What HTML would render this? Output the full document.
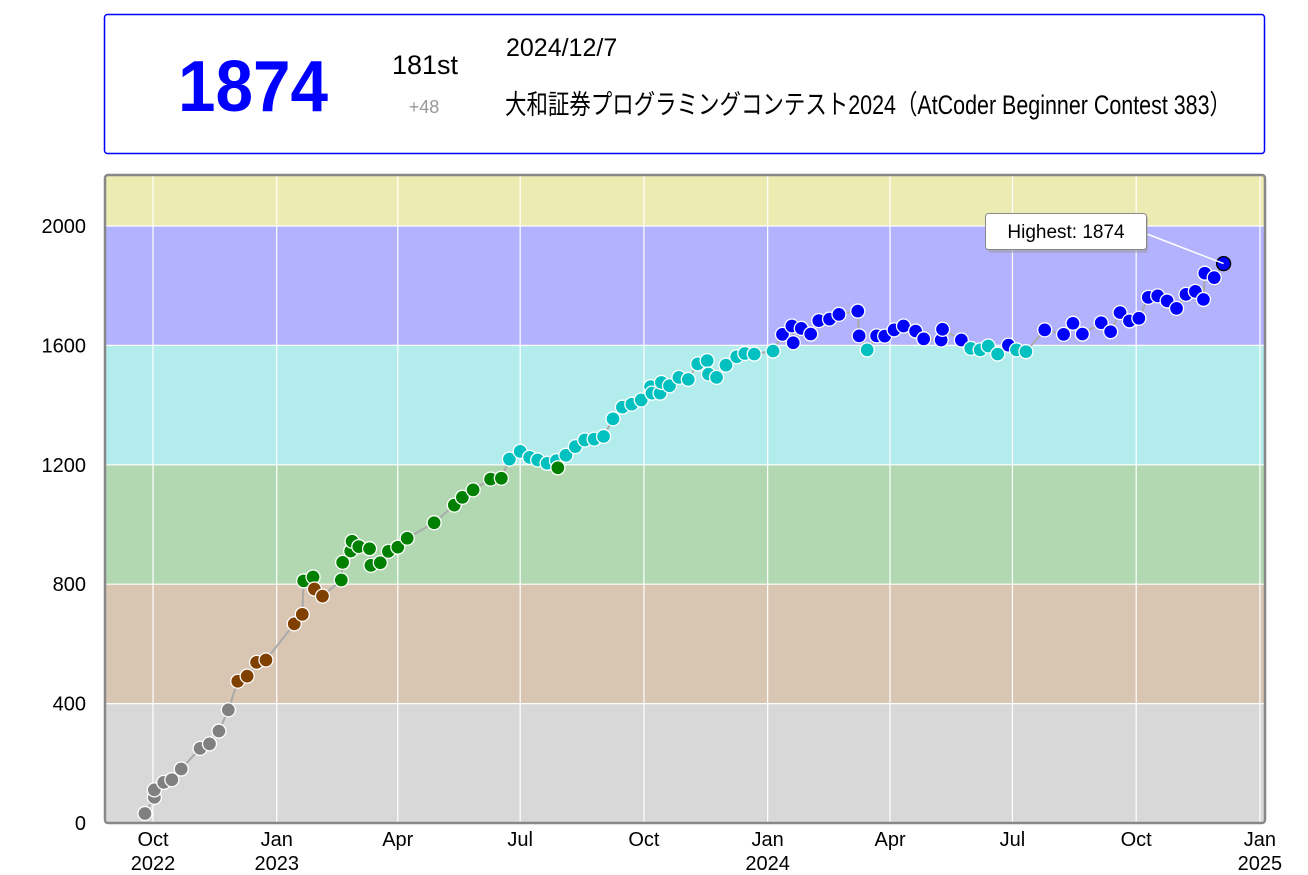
<!DOCTYPE html>
<html><head><meta charset="utf-8"><style>
body{margin:0;background:#fff;width:1308px;height:875px;overflow:hidden}
svg{display:block;font-family:"Liberation Sans","Noto Sans CJK JP",sans-serif}
</style></head><body>
<svg id="svg" width="1308" height="875">
<g>
<rect x="104.5" y="14.5" width="1160" height="139" rx="3" fill="#fff" stroke="#0000ff" stroke-width="1.5"/>
<text x="253" y="111" font-size="72" font-weight="bold" fill="#0000ff" text-anchor="middle" textLength="150" lengthAdjust="spacingAndGlyphs">1874</text>
<text x="425" y="74" font-size="27" text-anchor="middle" fill="#000">181st</text>
<text x="424" y="113" font-size="18" text-anchor="middle" fill="#999">+48</text>
<text x="506" y="56" font-size="25" fill="#000">2024/12/7</text>
<text x="505" y="114" font-size="27" fill="#000" textLength="726" lengthAdjust="spacingAndGlyphs">大和証券プログラミングコンテスト2024（AtCoder Beginner Contest 383）</text>
</g>
<g id="plot"></g>
</svg>
<script>
const dayOffsets=[-6,1,1,8,14,21,35,42,49,56,63,70,77,84,105,111,112,119,120,126,140,141,147,148,153,161,162,169,175,182,189,209,224,230,238,251,259,265,273,280,286,293,300,301,307,314,321,328,335,342,349,356,363,370,371,377,378,384,391,398,405,412,413,419,426,434,440,447,461,468,475,476,482,489,495,503,510,524,525,531,538,544,551,558,567,573,586,587,601,608,615,621,628,636,642,649,663,677,684,691,705,712,719,726,733,740,747,754,761,768,775,781,782,789,796];
const ratings=[32,86,111,136,145,181,250,265,308,379,475,492,538,546,667,699,811,824,784,760,814,873,911,944,926,919,863,872,910,924,954,1006,1065,1091,1116,1152,1155,1219,1245,1225,1216,1205,1214,1190,1232,1261,1283,1286,1295,1354,1393,1403,1417,1462,1440,1440,1476,1465,1493,1486,1538,1549,1504,1493,1534,1562,1573,1571,1581,1637,1665,1609,1657,1638,1683,1688,1704,1715,1632,1585,1632,1631,1652,1665,1648,1622,1618,1654,1618,1590,1585,1598,1571,1601,1585,1579,1652,1637,1674,1638,1676,1646,1710,1682,1691,1761,1766,1749,1724,1771,1781,1754,1842,1827,1874];
const yTicks=[0,400,800,1200,1600,2000];
const xTickMonths=["Oct","Jan","Apr","Jul","Oct","Jan","Apr","Jul","Oct","Jan"];
const xTickYears=["2022","2023","","","","2024","","","","2025"];
const xTickDays=[0,92,182,273,365,457,548,639,731,823];
const bandEdges=[0,400,800,1200,1600,2000,2200];
const bandColors=["#d8d8d8","#d8c5b2","#b2d8b2","#b2ecec","#b2b2ff","#ececb2"];
const dotColors=["#808080","#804000","#008000","#00c0c0","#0000ff","#c0c000"];

const L=105,R=1265,T=175,B=823;
const X=d=>153+d*1.345;
const Y=v=>B-v*0.2985;
const NS="http://www.w3.org/2000/svg";
const g=document.getElementById('plot');
function mk(tag,attrs,parent){const e=document.createElementNS(NS,tag);for(const k in attrs)e.setAttribute(k,attrs[k]);(parent||g).appendChild(e);return e;}
const clip=mk('clipPath',{id:'pc'});mk('rect',{x:L,y:T,width:R-L,height:B-T},clip);
const bg=mk('g',{'clip-path':'url(#pc)'});


for(let i=0;i<bandColors.length;i++){
  const r=mk('rect',{x:L,y:Y(bandEdges[i+1]),width:R-L,height:Y(bandEdges[i])-Y(bandEdges[i+1]),fill:bandColors[i]},bg);
  
  
}
yTicks.forEach(v=>{
  const l=mk('line',{x1:L,x2:R,y1:Y(v),y2:Y(v),stroke:'#fff','stroke-width':1.2},bg);
  
  
  const t=mk('text',{x:86,y:Y(v)+7,'font-size':20,'text-anchor':'end',fill:'#000'});
  t.textContent=v;
  
  
});
xTickDays.forEach((d,i)=>{
  const l=mk('line',{x1:X(d),x2:X(d),y1:T,y2:B,stroke:'#fff','stroke-width':1.2},bg);
  
  
  const t=mk('text',{x:X(d),y:846,'font-size':20,'text-anchor':'middle',fill:'#000'});
  t.textContent=xTickMonths[i];
  
  
  if(xTickYears[i]){
    const y=mk('text',{x:X(d),y:870,'font-size':20,'text-anchor':'middle',fill:'#000'});
    y.textContent=xTickYears[i];
    
    
  }
});
const border=mk('rect',{x:L,y:T,width:R-L,height:B-T,rx:3,fill:'none',stroke:'#888','stroke-width':2.5});


const pts=dayOffsets.map((d,i)=>X(d)+','+Y(ratings[i])).join(' ');
const line=mk('polyline',{points:pts,fill:'none',stroke:'#aaa','stroke-width':2});


const last=ratings.length-1;
dayOffsets.forEach((d,i)=>{
  const v=ratings[i];let c=0;while(c<5&&v>=bandEdges[c+1])c++;
  const p=mk('circle',{cx:X(d),cy:Y(v),r:7,fill:dotColors[c],stroke:i===last?'#000':'#fff','stroke-width':1.3});
  
  
});
const tip=mk('g',{});


mk('line',{x1:1147,y1:234,x2:X(dayOffsets[last]),y2:Y(ratings[last]),stroke:'#fff','stroke-width':1.5},tip);
mk('rect',{x:988,y:216,width:160,height:37,rx:3,fill:'#999',opacity:0.5},tip);
mk('rect',{x:985.5,y:213.5,width:161,height:36,rx:3,fill:'#fff',stroke:'#888'},tip);
const tt=mk('text',{x:1066,y:238,'font-size':19,'text-anchor':'middle',fill:'#000'},tip);
tt.textContent='Highest: '+ratings[last];
</script>
</body></html>
